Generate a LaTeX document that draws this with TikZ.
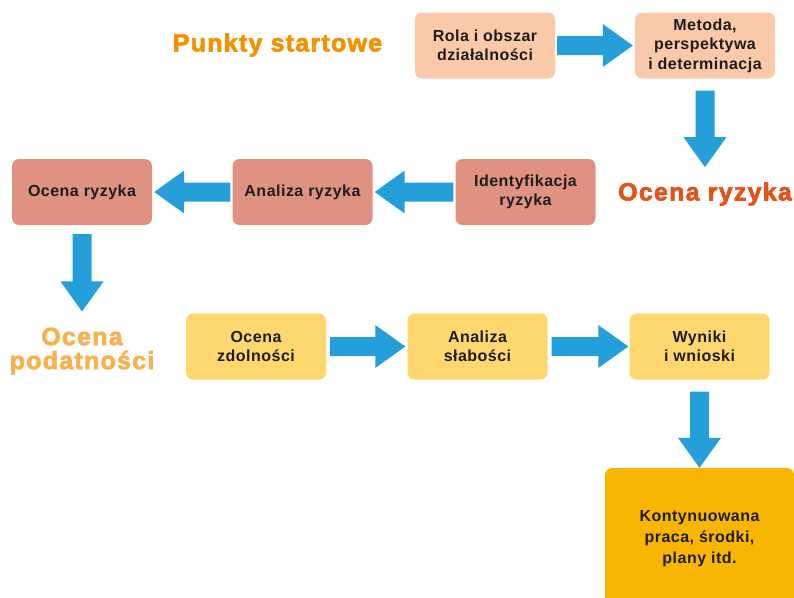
\documentclass[tikz,border=0pt]{standalone}
\usepackage{fontspec}
\setmainfont{Liberation Sans}[LetterSpace=3]
\newfontfamily\headfont{Liberation Sans}[LetterSpace=5,
  BoldFont={Liberation Sans Bold}, BoldFeatures={FakeBold=2.5}]
\usetikzlibrary{calc}

\definecolor{arrowblue}{HTML}{259FDA}
\definecolor{peachbox}{HTML}{FAC9AA}
\definecolor{rosebox}{HTML}{E09282}
\definecolor{yellowbox}{HTML}{FED86E}
\definecolor{goldbox}{HTML}{F8B600}
\definecolor{headorange}{HTML}{F39200}
\definecolor{headred}{HTML}{E8501A}
\definecolor{headlight}{HTML}{F9B04E}
\definecolor{boxtext}{HTML}{1D1D1B}

\tikzset{
  flowbox/.style={rounded corners=7pt, minimum width=140pt, minimum height=66pt,
    align=center, text=boxtext, font=\fontsize{16}{19.5}\selectfont\bfseries},
  heading/.style={inner sep=0pt, align=center,
    font=\headfont\fontsize{25}{24}\selectfont\bfseries},
  blockarrow/.style 2 args={fill=arrowblue, to path={
    let \p1=($(\tikztotarget)-(\tikztostart)$),
        \n1={veclen(\x1,\y1)}, \n2={atan2(\y1,\x1)} in
    [shift={(\tikztostart)}, rotate=\n2]
    (#1pt,-9.5pt) -- ({\n1-#2pt-30pt},-9.5pt) -- ({\n1-#2pt-30pt},-21.5pt)
    -- ({\n1-#2pt},0pt) -- ({\n1-#2pt-30pt},21.5pt) -- ({\n1-#2pt-30pt},9.5pt)
    -- (#1pt,9.5pt) -- cycle}}
}

\begin{document}
\begin{tikzpicture}[x=1pt, y=-1pt]
    \useasboundingbox (0,0) rectangle (794,597);

    % ==== PUNKTY STARTOWE ====
    \node[heading, text=headorange] (starthead) at (277.5,45) {Punkty startowe};
    \node[flowbox, fill=peachbox] (rola) at (485,45.5) {Rola i obszar\\działalności};
    \node[flowbox, fill=peachbox] (metoda) at (705,45.5) {Metoda,\\perspektywa\\i determinacja};

    % ==== OCENA RYZYKA ====
    \node[heading, text=headred] (riskhead) at (705,194) {Ocena ryzyka};
    \node[flowbox, fill=rosebox] (ident) at (525.5,192) {Identyfikacja\\ryzyka};
    \node[flowbox, fill=rosebox] (analiza) at (302.5,192) {Analiza ryzyka};
    \node[flowbox, fill=rosebox] (ocena) at (82,192) {Ocena ryzyka};

    % ==== OCENA PODATNOSCI ====
    \node[heading, text=headlight] (podhead) at (82,351) {Ocena\\podatności};
    \node[flowbox, fill=yellowbox] (zdol) at (256,346.5) {Ocena\\zdolności};
    \node[flowbox, fill=yellowbox] (slab) at (477.5,346.5) {Analiza\\słabości};
    \node[flowbox, fill=yellowbox] (wyniki) at (699.5,346.5) {Wyniki\\i wnioski};
    \node[flowbox, fill=goldbox, minimum width=189pt, minimum height=142pt,
      font=\fontsize{16}{21}\selectfont\bfseries] (kont) at (699.5,539)
      {Kontynuowana\\praca, środki,\\plany itd.};

    % ==== ARROWS ====
    \path[blockarrow={2}{2}] (rola.east) to (metoda.west);
    \path[blockarrow={12}{15}] (metoda.south) to (riskhead.north);
    \path[blockarrow={2}{2}] (ident.west) to (analiza.east);
    \path[blockarrow={2}{2}] (analiza.west) to (ocena.east);
    \path[blockarrow={9}{16}] (ocena.south) to (podhead.north);
    \path[blockarrow={4}{2}] (zdol.east) to (slab.west);
    \path[blockarrow={4}{1}] (slab.east) to (wyniki.west);
    \path[blockarrow={12}{0}] (wyniki.south) to (kont.north);
\end{tikzpicture}
\end{document}
